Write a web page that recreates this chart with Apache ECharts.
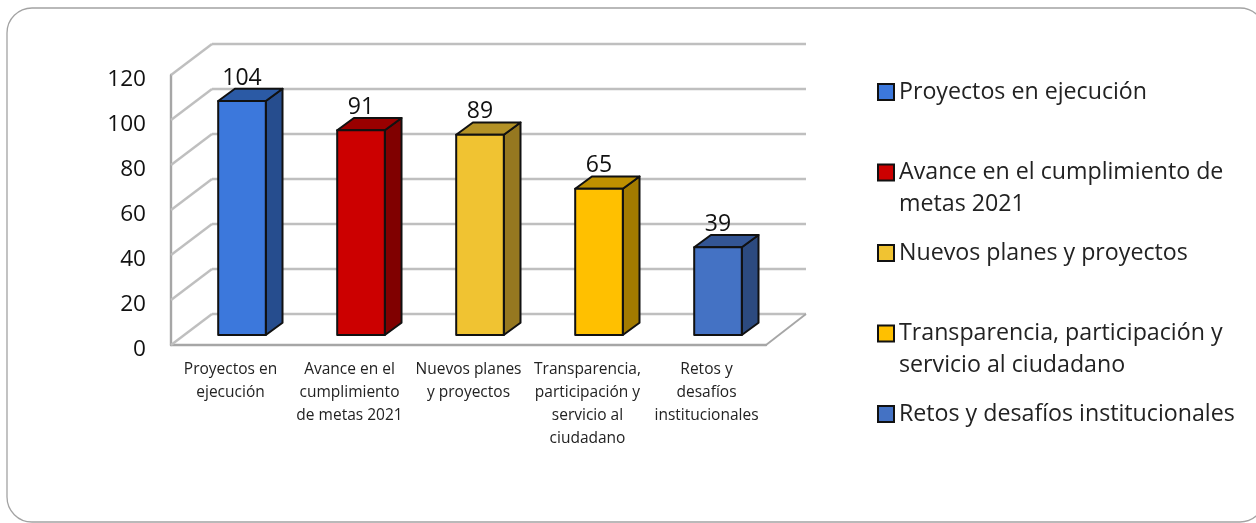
<!DOCTYPE html>
<html><head><meta charset="utf-8">
<style>html,body{margin:0;padding:0;background:#fff}#c{width:1256px;height:523px}</style>
<script src="https://cdn.jsdelivr.net/npm/echarts@6/dist/echarts.min.js"></script>
</head><body><div id="c"></div>
<script>
const categories = ["Proyectos en ejecución","Avance en el cumplimiento de metas 2021","Nuevos planes y proyectos","Transparencia, participación y servicio al ciudadano","Retos y desafíos institucionales"];
const values = [104,91,89,65,39];
const tickLabels = ["Proyectos en\nejecución","Avance en el\ncumplimiento\nde metas 2021","Nuevos planes\ny proyectos","Transparencia,\nparticipación y\nservicio al\nciudadano","Retos y\ndesafíos\ninstitucionales"];
const legendLines = ["\nProyectos en ejecución\n ","\nAvance en el cumplimiento de\nmetas 2021","\nNuevos planes y proyectos\n ","\nTransparencia, participación y\nservicio al ciudadano","\nRetos y desafíos institucionales\n "];
const yTicks = [0,20,40,60,80,100,120];
const frontColors = ["#3C78DC","#CC0000","#F0C332","#FFC000","#4472C4"];
const sideColors  = ["#264D8E","#800000","#967820","#A37B00","#2C4A7F"];
const topColors   = ["#2B5AA5","#990000","#B49226","#BF9000","#335594"];

const FONT = '"Open Sans", sans-serif';
const WALL_DX = 41, WALL_DY = -31;
const BAR_SHIFT_X = 11.5, BAR_SHIFT_Y = -10, BAR_DX = 16.7, BAR_DY = -12.3, BAR_RATIO = 0.4;
const EDGE = {stroke:"#111", lineWidth:2, lineJoin:"round"};

function barItem(idx){
  return function(params, api){
    const v = api.value(1), c = api.value(0);
    const top = api.coord([c, v]), base = api.coord([c, 0]);
    const w = api.size([1,0])[0] * BAR_RATIO;
    const x0 = top[0] - w/2 + BAR_SHIFT_X, x1 = x0 + w;
    const yT = top[1] + BAR_SHIFT_Y, yB = base[1] + BAR_SHIFT_Y;
    return {type:"group", children:[
      {type:"polygon", shape:{points:[[x1,yT],[x1+BAR_DX,yT+BAR_DY],[x1+BAR_DX,yB+BAR_DY],[x1,yB]]}, style:Object.assign({fill:sideColors[idx]},EDGE)},
      {type:"polygon", shape:{points:[[x0,yT],[x0+BAR_DX,yT+BAR_DY],[x1+BAR_DX,yT+BAR_DY],[x1,yT]]}, style:Object.assign({fill:topColors[idx]},EDGE)},
      {type:"rect", shape:{x:x0,y:yT,width:w,height:yB-yT}, style:Object.assign({fill:frontColors[idx]},EDGE)},
      {type:"text", style:{text:String(v), x:(x0+x1)/2, y:yT-23, align:"center", verticalAlign:"middle", font:'23px '+FONT, fill:"#111"}}
    ]};
  };
}

const barSeries = categories.map((name,i)=>({
  name, type:"custom", xAxisIndex:0, yAxisIndex:0, z:5,
  itemStyle:{color:frontColors[i]},
  encode:{x:0,y:1},
  data:[[i,values[i]]],
  renderItem:barItem(i)
}));

const wallSeries = {
  type:"custom", xAxisIndex:0, yAxisIndex:0, z:1, silent:true,
  encode:{y:0}, data:yTicks.map(t=>[t]),
  renderItem(params, api){
    const p = api.coord([0, api.value(0)]);
    const left = params.coordSys.x;
    return {type:"line", shape:{x1:left,y1:p[1],x2:left+WALL_DX,y2:p[1]+WALL_DY},
      style:{stroke:"#bfbfbf",lineWidth:2.4}};
  }
};
const floorSeries = {
  type:"custom", xAxisIndex:0, yAxisIndex:0, z:1, silent:true,
  encode:{y:0}, data:[[0]],
  renderItem(params, api){
    const p = api.coord([0, api.value(0)]);
    const right = params.coordSys.x + params.coordSys.width;
    return {type:"line", shape:{x1:right,y1:p[1],x2:right+WALL_DX-1,y2:p[1]+WALL_DY},
      style:{stroke:"#a6a6a6",lineWidth:1.8}};
  }
};

const chart = echarts.init(document.getElementById("c"), null, {renderer:"canvas"});
chart.setOption({
  animation:false,
  backgroundColor:"#fff",
  graphic:[{type:"rect", silent:true, z:-10, shape:{x:7,y:8,width:1258,height:514,r:25},
    style:{fill:"#fff",stroke:"#a3a3a3",lineWidth:1.3}}],
  grid:[
    {left:171,top:75,width:595,height:270},
    {left:212,top:44,width:594,height:270}
  ],
  xAxis:[
    {type:"category",gridIndex:0,data:categories,
     axisTick:{show:false},
     axisLine:{onZero:false,lineStyle:{color:"#a6a6a6",width:2.4}},
     axisLabel:{interval:0,margin:13,lineHeight:23,fontSize:15.5,fontFamily:FONT,color:"#222",
       formatter:(v,i)=>tickLabels[i]}},
    {type:"category",gridIndex:1,data:categories,show:false}
  ],
  yAxis:[
    {type:"value",gridIndex:0,min:0,max:120,interval:20,
     splitLine:{show:false},axisTick:{show:false},
     axisLine:{show:true,lineStyle:{color:"#a6a6a6",width:2.4}},
     axisLabel:{margin:25,fontSize:22.6,fontFamily:FONT,color:"#111",verticalAlign:"top",lineHeight:10}},
    {type:"value",gridIndex:1,min:0,max:120,interval:20,
     axisLabel:{show:false},axisLine:{show:false},axisTick:{show:false},
     splitLine:{show:true,lineStyle:{color:"#bfbfbf",width:2.4}}}
  ],
  legend:{
    orient:"vertical",left:877,top:44,padding:0,itemGap:-15.5,
    itemWidth:16,itemHeight:16,icon:"rect",selectedMode:false,
    data:categories,
    formatter:name=>legendLines[categories.indexOf(name)],
    itemStyle:{borderColor:"#111",borderWidth:2},
    textStyle:{fontSize:23.2,fontFamily:FONT,color:"#222",lineHeight:32}
  },
  series:[wallSeries,floorSeries].concat(barSeries)
});
</script></body></html>
